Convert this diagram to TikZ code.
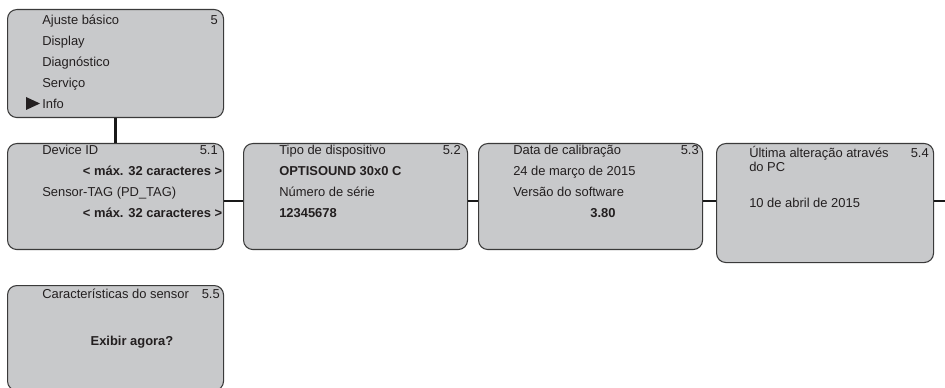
\documentclass[tikz,border=0pt]{standalone}
\usepackage{fontspec}
\setmainfont{Liberation Sans}
\usetikzlibrary{positioning}
\definecolor{menufill}{HTML}{C8C9CB}
\definecolor{menuline}{HTML}{3A3A3A}
\definecolor{menutext}{HTML}{231F20}
\tikzset{
  menubox/.style={draw=menuline, fill=menufill, line width=0.8pt, rounded corners=7pt, anchor=north west, inner sep=0pt},
  entry/.style={anchor=base west, inner sep=0pt, text=menutext, font=\fontsize{9.7}{11.6}\selectfont},
  bentry/.style={entry, font=\fontsize{9.7}{11.6}\selectfont\bfseries},
  numlabel/.style={entry, anchor=base east},
  link/.style={line width=2.2pt, color=black!90}
}
\begin{document}
\begin{tikzpicture}[x=0.75pt,y=-0.75pt]
\useasboundingbox (0,0) rectangle (945,388);
\node[menubox, minimum width=162pt, minimum height=81pt] (menu) at (7,9) {};
\node[menubox, minimum width=162pt, minimum height=79.5pt] (devid) at (7,143) {};
\node[menubox, minimum width=168pt, minimum height=79.5pt] (devtype) at (243,143) {};
\node[menubox, minimum width=168pt, minimum height=79.5pt] (calib) at (478,143) {};
\node[menubox, minimum width=162.75pt, minimum height=89.25pt] (change) at (716,143) {};
\node[menubox, minimum width=162pt, minimum height=78.75pt] (sensor) at (7,285) {};
\coordinate (row) at (0,201);
\coordinate (more) at (945,201);
\draw[link] (menu.south) -- (devid.north);
\draw[link] (devid.east |- row) -- (devtype.west |- row);
\draw[link] (devtype.east |- row) -- (calib.west |- row);
\draw[link] (calib.east |- row) -- (change.west |- row);
\draw[link] (change.east |- row) -- (more);
\node[entry] (basic) at (42,24.5) {Ajuste básico};
\node[entry] (display) at (42,45.5) {Display};
\node[entry] (diag) at (42,66.5) {Diagnóstico};
\node[entry] (service) at (42,87.5) {Serviço};
\node[entry] (info) at (42,108.5) {Info};
\fill[menutext] (26,97) -- (40,103.5) -- (26,110) -- cycle;
\node[numlabel] (n5) at (218,24.5) {5};
\node[entry] (idtitle) at (42,155) {Device ID};
\node[numlabel] (n51) at (218,155) {5.1};
\node[bentry, anchor=base east] (idmax) at (222.5,176) {< máx. 32 caracteres >};
\node[entry] (tagtitle) at (42,197) {Sensor-TAG (PD\_TAG)};
\node[bentry, anchor=base east] (tagmax) at (222.5,218) {< máx. 32 caracteres >};
\node[entry] (typetitle) at (279,155) {Tipo de dispositivo};
\node[numlabel] (n52) at (461,155) {5.2};
\node[bentry] (typename) at (279,176) {OPTISOUND 30x0 C};
\node[entry] (serialtitle) at (279,197) {Número de série};
\node[bentry] (serial) at (279,218) {12345678};
\node[entry] (calibtitle) at (513,155) {Data de calibração};
\node[numlabel] (n53) at (699,155) {5.3};
\node[entry] (calibdate) at (513,176) {24 de março de 2015};
\node[entry] (swtitle) at (513,197) {Versão do software};
\node[bentry, anchor=base] (swver) at (603,218) {3.80};
\node[entry] (changetitle) at (749,157.5) {\'Ultima alteração através};
\node[entry] (changepc) at (749,171.5) {do PC};
\node[numlabel] (n54) at (929,157.5) {5.4};
\node[entry] (changedate) at (749,208) {10 de abril de 2015};
\node[entry] (sensortitle) at (42,298) {Características do sensor};
\node[numlabel] (n55) at (220,298) {5.5};
\node[bentry, anchor=base] (showit) at (132,345) {Exibir agora?};
\end{tikzpicture}
\end{document}
